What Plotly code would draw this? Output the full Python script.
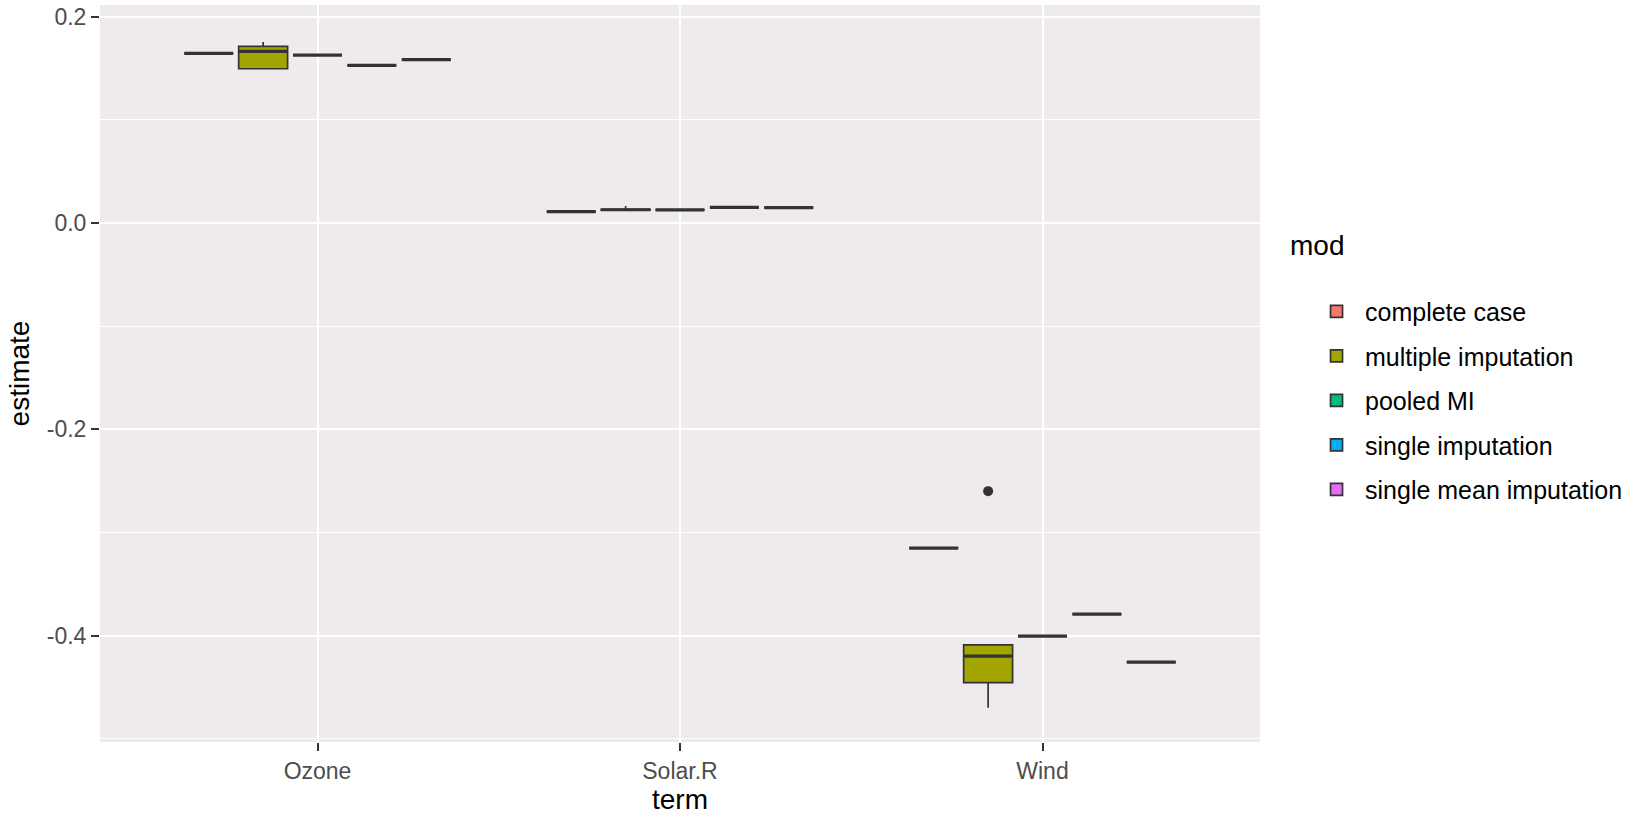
import plotly.graph_objects as go

# ---- data ----
terms = ["Ozone", "Solar.R", "Wind"]
mods = ["complete case", "multiple imputation", "pooled MI", "single imputation", "single mean imputation"]
colors = ["#F8766D", "#A3A500", "#00BF7D", "#00B0F6", "#E76BF3"]

# per mod: values for [Ozone, Solar.R, Wind]
q1 = {
    "complete case":          [0.1643, 0.0109, -0.3151],
    "multiple imputation":    [0.1494, 0.0124, -0.4455],
    "pooled MI":              [0.1627, 0.0126, -0.4004],
    "single imputation":      [0.1527, 0.0151, -0.3791],
    "single mean imputation": [0.1582, 0.0148, -0.4256],
}
median = {
    "complete case":          [0.1643, 0.0109, -0.3151],
    "multiple imputation":    [0.1662, 0.0128, -0.4197],
    "pooled MI":              [0.1627, 0.0126, -0.4004],
    "single imputation":      [0.1527, 0.0151, -0.3791],
    "single mean imputation": [0.1582, 0.0148, -0.4256],
}
q3 = {
    "complete case":          [0.1643, 0.0109, -0.3151],
    "multiple imputation":    [0.1711, 0.0132, -0.4088],
    "pooled MI":              [0.1627, 0.0126, -0.4004],
    "single imputation":      [0.1527, 0.0151, -0.3791],
    "single mean imputation": [0.1582, 0.0148, -0.4256],
}
lower = {
    "complete case":          [0.1643, 0.0109, -0.3151],
    "multiple imputation":    [0.1494, 0.0122, -0.4697],
    "pooled MI":              [0.1627, 0.0126, -0.4004],
    "single imputation":      [0.1527, 0.0151, -0.3791],
    "single mean imputation": [0.1582, 0.0148, -0.4256],
}
upper = {
    "complete case":          [0.1643, 0.0109, -0.3151],
    "multiple imputation":    [0.1753, 0.0165, -0.4088],
    "pooled MI":              [0.1627, 0.0126, -0.4004],
    "single imputation":      [0.1527, 0.0151, -0.3791],
    "single mean imputation": [0.1582, 0.0148, -0.4256],
}
outlier_mod = "multiple imputation"
outlier_term = "Wind"
outlier_value = -0.2599

y_ticks = [-0.4, -0.2, 0.0, 0.2]
y_ticktext = ["-0.4", "-0.2", "0.0", "0.2"]

# ---- layout helpers (ggplot-like dodge) ----
n = len(mods)
dodge_width = 0.75
slot = dodge_width / n
box_w = slot * 0.9
cat_pos = {t: i + 1 for i, t in enumerate(terms)}

def xpos(term, j):
    return cat_pos[term] + (j - (n - 1) / 2) * slot

fig = go.Figure()
for j, m in enumerate(mods):
    xs = [xpos(t, j) for t in terms]
    fig.add_trace(go.Box(
        x=xs, q1=q1[m], median=median[m], q3=q3[m],
        lowerfence=lower[m], upperfence=upper[m],
        width=box_w, fillcolor=colors[j],
        line=dict(color="#333333", width=1.7),
        whiskerwidth=0, boxpoints=False, name=m,
        legendgroup=m, hoverinfo="skip",
    ))
# fatter median lines
for j, m in enumerate(mods):
    xs = [xpos(t, j) for t in terms]
    fig.add_trace(go.Box(
        x=xs, q1=median[m], median=median[m], q3=median[m],
        lowerfence=median[m], upperfence=median[m],
        width=box_w, fillcolor="rgba(0,0,0,0)",
        line=dict(color="#333333", width=3.2),
        whiskerwidth=0, boxpoints=False, showlegend=False,
        legendgroup=m, hoverinfo="skip",
    ))
# outlier
fig.add_trace(go.Scatter(
    x=[xpos(outlier_term, mods.index(outlier_mod))], y=[outlier_value],
    mode="markers", marker=dict(color="#333333", size=10),
    showlegend=False, hoverinfo="skip",
))

font = "Liberation Sans, Arial, sans-serif"
fig.update_layout(
    width=1640, height=817,
    margin=dict(l=100, r=380, t=5, b=75),
    paper_bgcolor="white", plot_bgcolor="#EEEAEE",
    boxmode="overlay",
    font=dict(family=font, color="#4D4D4D", size=23),
    legend=dict(
        x=1.0414, xanchor="left", y=0.4632, yanchor="middle",
        font=dict(size=25, color="black"),
        traceorder="grouped", tracegroupgap=9, itemwidth=47,
        bgcolor="rgba(0,0,0,0)",
    ),
    annotations=[dict(
        text="mod", xref="paper", yref="paper", x=1.0241, y=0.673,
        xanchor="left", yanchor="middle", showarrow=False,
        font=dict(size=28, color="black", family=font),
    )],
    xaxis=dict(
        range=[0.4, 3.6], tickvals=[1, 2, 3], ticktext=terms,
        showgrid=True, gridcolor="white", gridwidth=2, zeroline=False,
        ticks="outside", ticklen=8, tickcolor="#333333", tickwidth=2,
        tickfont=dict(size=23, color="#4D4D4D"), automargin=False,
        title=dict(text="term", font=dict(size=28, color="black"), standoff=4),
    ),
    yaxis=dict(
        range=[-0.503, 0.2112], tickvals=y_ticks, ticktext=y_ticktext,
        showgrid=True, gridcolor="white", gridwidth=2, zeroline=False,
        ticks="outside", ticklen=8, tickcolor="#333333", tickwidth=2,
        tickfont=dict(size=23, color="#4D4D4D"), automargin=False,
        minor=dict(tickmode="linear", tick0=0, dtick=0.1, showgrid=True,
                   gridcolor="white", gridwidth=1, ticks=""),
        title=dict(text="estimate", font=dict(size=28, color="black"), standoff=8),
    ),
)

fig.write_html("out.html", config={"displayModeBar": False},
               post_script="document.body.style.margin='0';")
